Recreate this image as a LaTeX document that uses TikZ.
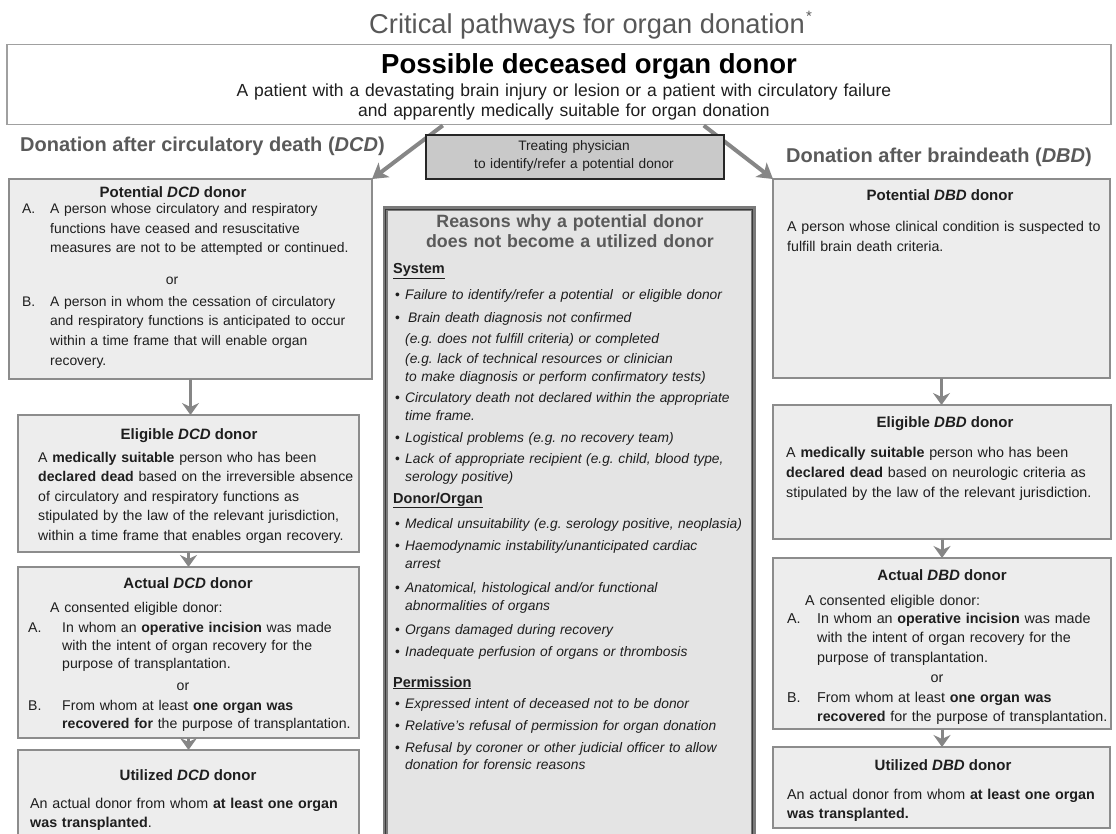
\documentclass[tikz,border=0pt]{standalone}
\usepackage{fontspec}
\setmainfont{Liberation Sans}
\usetikzlibrary{arrows.meta}
\frenchspacing

\definecolor{ink}{HTML}{1E1E1E}
\definecolor{titlegray}{HTML}{585858}
\definecolor{headgray}{HTML}{5A5A5A}
\definecolor{boxfill}{HTML}{EDEDED}
\definecolor{boxline}{HTML}{8C8C8C}
\definecolor{arrowgray}{HTML}{868686}
\definecolor{reasonfill}{HTML}{E4E4E4}
\definecolor{reasonband}{HTML}{7A7A7A}
\definecolor{reasonline}{HTML}{3A3A3A}
\definecolor{treatfill}{HTML}{C9C9C9}
\definecolor{topline}{HTML}{A0A0A0}

\begin{document}
\begin{tikzpicture}[x=1pt,y=-1pt,
  donorbox/.style={draw=boxline, fill=boxfill, line width=1.6pt, inner sep=0pt, outer sep=0pt, anchor=north west},
  headtext/.style={anchor=base, inner sep=0pt, text=ink, font=\fontsize{15}{18}\selectfont\bfseries},
  bodytext/.style={anchor=base west, inner sep=0pt, text=ink, align=left, text width=340pt, font=\fontsize{14.3}{19.5}\selectfont},
  ortext/.style={anchor=base, inner sep=0pt, text=ink, font=\fontsize{14.3}{19.5}\selectfont},
  itemtext/.style={anchor=base west, inner sep=0pt, text=ink, align=left, text width=345pt, font=\fontsize{13.8}{18}\selectfont\itshape},
  bullettext/.style={anchor=base west, inner sep=0pt, text=ink, font=\fontsize{13.8}{18}\selectfont},
  secttext/.style={anchor=base west, inner sep=0pt, text=ink, font=\fontsize{14.5}{18}\selectfont\bfseries},
  coltitle/.style={anchor=base west, inner sep=0pt, text=headgray, font=\fontsize{20}{24}\selectfont\bfseries},
  flowarrow/.style={draw=arrowgray, line width=3pt, -{Stealth[length=12pt,width=17pt,inset=4pt]}},
  splitarrow/.style={draw=arrowgray, line width=4pt, -{Stealth[length=15pt,width=18pt,inset=4pt]}}]

\useasboundingbox (0,0) rectangle (1116,834);
\clip (0,0) rectangle (1116,834);
\fill[white] (0,0) rectangle (1116,834);

% ---- title ----
\node[anchor=base, inner sep=0pt, text=titlegray, font=\fontsize{27.3}{30}\selectfont] (ttl) at (587,34) {Critical pathways for organ donation};
\node[anchor=base west, inner sep=0pt, text=titlegray, font=\fontsize{15}{15}\selectfont, xshift=1pt, yshift=12pt] (ast) at (ttl.base east) {*};

% ---- possible donor ----
\node[draw=topline, fill=white, line width=1.5pt, inner sep=0pt, anchor=north west, minimum width=1104pt, minimum height=80pt] (possible) at (6,44) {};
\node[anchor=base, inner sep=0pt, text=black, font=\fontsize{27.5}{30}\selectfont\bfseries] (possT) at (589,74) {Possible deceased organ donor};
\node[anchor=base, inner sep=0pt, text=ink, align=center, text width=1000pt, font=\fontsize{17.5}{20}\selectfont] (possD) at (564,97) {A patient with a devastating brain injury or lesion or a patient with circulatory failure\\and apparently medically suitable for organ donation};

% ---- column titles ----
\node[coltitle] (dcdH) at (20,152) {Donation after circulatory death (\textit{DCD})};
\node[coltitle] (dbdH) at (786,163) {Donation after braindeath (\textit{DBD})};

% ---- DCD column boxes ----
\node[donorbox, line width=2.6pt, minimum width=363pt, minimum height=200pt] (pdcd) at (9,179) {};
\node[donorbox, minimum width=341pt, minimum height=137pt] (edcd) at (18,415) {};
\node[donorbox, minimum width=341pt, minimum height=171pt] (adcd) at (18,567) {};
\node[donorbox, minimum width=341pt, minimum height=100pt] (udcd) at (18,750) {};

% ---- DBD column boxes ----
\node[donorbox, minimum width=337pt, minimum height=199pt] (pdbd) at (773,179) {};
\node[donorbox, minimum width=338pt, minimum height=134pt] (edbd) at (773,405) {};
\node[donorbox, minimum width=338pt, minimum height=171pt] (adbd) at (773,558) {};
\node[donorbox, minimum width=337pt, minimum height=81pt] (udbd) at (773,747) {};

% ---- split from the possible donor ----
\coordinate (sL) at ([xshift=-116pt]possible.south);
\coordinate (sR) at ([xshift=145pt]possible.south);
\draw[splitarrow] (sL) -- (pdcd.north east);
\draw[splitarrow] (sR) -- (pdbd.north west);

% ---- treating physician ----
\node[draw=black!85, fill=treatfill, line width=2.2pt, inner sep=0pt, anchor=north west, minimum width=298pt, minimum height=44pt] (treat) at (425,134) {};
\node[anchor=base, inner sep=0pt, text=ink, align=center, text width=290pt, font=\fontsize{13.7}{18}\selectfont] (treatT) at (574,151) {Treating physician\\to identify/refer a potential donor};

% ---- flow arrows ----
\draw[flowarrow] (pdcd.south) -- (pdcd.south |- edcd.north);
\draw[flowarrow] (edcd.south) -- (edcd.south |- adcd.north);
\draw[flowarrow] (adcd.south) -- (adcd.south |- udcd.north);
\draw[flowarrow] (pdbd.south) -- (pdbd.south |- edbd.north);
\draw[flowarrow] (edbd.south) -- (edbd.south |- adbd.north);
\draw[flowarrow] (adbd.south) -- (adbd.south |- udbd.north);

% ---- DCD texts ----
\node[headtext] (pdcdH) at (173,198) {Potential \textit{DCD} donor};
\node[bodytext, font=\fontsize{13.9}{19.5}\selectfont] (pdcdAl) at (22,214) {A.};
\node[bodytext, font=\fontsize{13.9}{19.3}\selectfont] (pdcdA) at (50,214) {A person whose circulatory and respiratory\\functions have ceased and resuscitative\\measures are not to be attempted or continued.};
\node[ortext, font=\fontsize{13.9}{19.5}\selectfont] (pdcdOr) at (172,285) {or};
\node[bodytext, font=\fontsize{13.9}{19.5}\selectfont] (pdcdBl) at (22,306) {B.};
\node[bodytext, font=\fontsize{13.9}{19.7}\selectfont] (pdcdB) at (50,306) {A person in whom the cessation of circulatory\\and respiratory functions is anticipated to occur\\within a time frame that will enable organ\\recovery.};

\node[headtext] (edcdH) at (189,439) {Eligible \textit{DCD} donor};
\node[bodytext, font=\fontsize{14.1}{19.6}\selectfont] (edcdT) at (38,462) {A \textbf{medically suitable} person who has been\\\textbf{declared dead} based on the irreversible absence\\of circulatory and respiratory functions as\\stipulated by the law of the relevant jurisdiction,\\within a time frame that enables organ recovery.};

\node[headtext] (adcdH) at (188,588) {Actual \textit{DCD} donor};
\node[bodytext, font=\fontsize{14.1}{18.3}\selectfont] (adcdC) at (50,612) {A consented eligible donor:};
\node[bodytext, font=\fontsize{14.1}{18.3}\selectfont] (adcdAl) at (28,632) {A.};
\node[bodytext, font=\fontsize{14.1}{18.3}\selectfont] (adcdA) at (62,632) {In whom an \textbf{operative incision} was made\\with the intent of organ recovery for the\\purpose of transplantation.};
\node[ortext, font=\fontsize{14.1}{18.3}\selectfont] (adcdOr) at (183,690) {or};
\node[bodytext, font=\fontsize{14.1}{18.3}\selectfont] (adcdBl) at (28,710) {B.};
\node[bodytext, font=\fontsize{14.1}{18.3}\selectfont] (adcdB) at (62,710) {From whom at least \textbf{one organ was}\\\textbf{recovered for} the purpose of transplantation.};

\node[headtext] (udcdH) at (188,780) {Utilized \textit{DCD} donor};
\node[bodytext] (udcdT) at (30,808) {An actual donor from whom \textbf{at least one organ}\\\textbf{was transplanted}.};

% ---- DBD texts ----
\node[headtext] (pdbdH) at (940,201) {Potential \textit{DBD} donor};
\node[bodytext, font=\fontsize{14.2}{20}\selectfont] (pdbdT) at (787,232) {A person whose clinical condition is suspected to\\fulfill brain death criteria.};

\node[headtext] (edbdH) at (945,427) {Eligible \textit{DBD} donor};
\node[bodytext, font=\fontsize{14.3}{20}\selectfont] (edbdT) at (786,457) {A \textbf{medically suitable} person who has been\\\textbf{declared dead} based on neurologic criteria as\\stipulated by the law of the relevant jurisdiction.};

\node[headtext] (adbdH) at (942,580) {Actual \textit{DBD} donor};
\node[bodytext] (adbdC) at (805,605) {A consented eligible donor:};
\node[bodytext] (adbdAl) at (787,623) {A.};
\node[bodytext] (adbdA) at (817,623) {In whom an \textbf{operative incision} was made\\with the intent of organ recovery for the\\purpose of transplantation.};
\node[ortext] (adbdOr) at (937,682) {or};
\node[bodytext] (adbdBl) at (787,702) {B.};
\node[bodytext] (adbdB) at (817,702) {From whom at least \textbf{one organ was}\\\textbf{recovered} for the purpose of transplantation.};

\node[headtext] (udbdH) at (943,770) {Utilized \textit{DBD} donor};
\node[bodytext] (udbdT) at (787,799) {An actual donor from whom \textbf{at least one organ}\\\textbf{was transplanted.}};

% ---- reasons box ----
\node[draw=reasonband, fill=reasonfill, line width=5pt, inner sep=0pt, anchor=north west, minimum width=368pt, minimum height=700pt] (reasons) at (382.5,206.5) {};
\draw[reasonline, line width=1.2pt] ([shift={(3.2,3.2)}]reasons.north west) rectangle ([shift={(-3.2,-3.2)}]reasons.south east);

\node[anchor=base, inner sep=0pt, text=headgray, align=center, text width=360pt, font=\fontsize{17.8}{20}\selectfont\bfseries] (whyT) at (570,228) {Reasons why a potential donor\\does not become a utilized donor};

\node[secttext] (sys) at (393,274) {\underline{System}};
\node[bullettext] (b1) at (395,300) {\textbullet};
\node[itemtext] (i1) at (405,300) {Failure to identify/refer a potential\ \ or eligible donor};
\node[bullettext] (b2) at (395,322) {\textbullet};
\node[itemtext] (i2) at (408,322) {Brain death diagnosis not confirmed};
\node[itemtext] (i2a) at (405,343) {(e.g. does not fulfill criteria) or completed};
\node[itemtext] (i2b) at (405,363) {(e.g. lack of technical resources or clinician\\to make diagnosis or perform confirmatory tests)};
\node[bullettext] (b3) at (395,402) {\textbullet};
\node[itemtext] (i3) at (405,402) {Circulatory death not declared within the appropriate\\time frame.};
\node[bullettext] (b4) at (395,442) {\textbullet};
\node[itemtext] (i4) at (405,442) {Logistical problems (e.g. no recovery team)};
\node[bullettext] (b5) at (395,463) {\textbullet};
\node[itemtext] (i5) at (405,463) {Lack of appropriate recipient (e.g. child, blood type,\\serology positive)};

\node[secttext] (don) at (393,503) {\underline{Donor/Organ}};
\node[bullettext] (b6) at (395,528) {\textbullet};
\node[itemtext] (i6) at (405,528) {Medical unsuitability (e.g. serology positive, neoplasia)};
\node[bullettext] (b7) at (395,550) {\textbullet};
\node[itemtext] (i7) at (405,550) {Haemodynamic instability/unanticipated cardiac\\arrest};
\node[bullettext] (b8) at (395,592) {\textbullet};
\node[itemtext] (i8) at (405,592) {Anatomical, histological and/or functional\\abnormalities of organs};
\node[bullettext] (b9) at (395,634) {\textbullet};
\node[itemtext] (i9) at (405,634) {Organs damaged during recovery};
\node[bullettext] (b10) at (395,656) {\textbullet};
\node[itemtext] (i10) at (405,656) {Inadequate perfusion of organs or thrombosis};

\node[secttext] (perm) at (393,687) {\underline{Permission}};
\node[bullettext] (b11) at (395,708) {\textbullet};
\node[itemtext] (i11) at (405,708) {Expressed intent of deceased not to be donor};
\node[bullettext] (b12) at (395,730) {\textbullet};
\node[itemtext] (i12) at (405,730) {Relative's refusal of permission for organ donation};
\node[bullettext] (b13) at (395,752) {\textbullet};
\node[itemtext, font=\fontsize{13.8}{17}\selectfont\itshape] (i13) at (405,752) {Refusal by coroner or other judicial officer to allow\\donation for forensic reasons};

\end{tikzpicture}
\end{document}
